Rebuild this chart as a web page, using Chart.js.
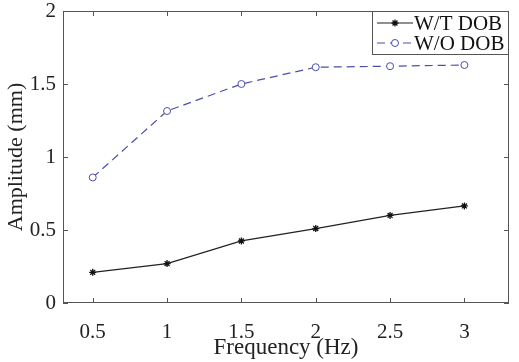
<!DOCTYPE html>
<html lang="en">
<head>
  <meta charset="utf-8">
  <title>Amplitude vs Frequency</title>
  <script src="https://cdn.jsdelivr.net/npm/chart.js@4.4.0/dist/chart.umd.min.js"></script>
  <style>
    html, body { margin: 0; padding: 0; background: #fff; }
    #wrap { width: 519px; height: 362px; }
  </style>
</head>
<body>
<div id="wrap"><canvas id="myChart" width="519" height="362"></canvas></div>
<script>
// data
var freq = [0.5, 1, 1.5, 2, 2.5, 3];
var withDob = [0.21, 0.27, 0.425, 0.51, 0.60, 0.665];
var withoutDob = [0.86, 1.315, 1.50, 1.615, 1.622, 1.63];
var xTicks = [0.5, 1, 1.5, 2, 2.5, 3];
var yTicks = [0, 0.5, 1, 1.5, 2];
var seriesNames = ["W/T DOB", "W/O DOB"];

var serif = "'Liberation Serif', 'Times New Roman', serif";
var axisColor = "#555";
var blue = "#4b4fa8";

function pts(xs, ys) {
  return xs.map(function (x, i) { return { x: x, y: ys[i] }; });
}

// box + inward ticks on all four sides, like matlab
var boxPlugin = {
  id: "box",
  afterDraw: function (chart) {
    var ctx = chart.ctx, a = chart.chartArea;
    var xs = chart.scales.x, ys = chart.scales.y;
    var tl = 5;
    ctx.save();
    ctx.strokeStyle = axisColor;
    ctx.lineWidth = 1;
    ctx.strokeRect(a.left + 0.5, a.top + 0.5, a.right - a.left - 1, a.bottom - a.top - 1);
    ctx.beginPath();
    xTicks.forEach(function (v) {
      var px = Math.round(xs.getPixelForValue(v)) + 0.5;
      ctx.moveTo(px, a.bottom); ctx.lineTo(px, a.bottom - tl);
      ctx.moveTo(px, a.top); ctx.lineTo(px, a.top + tl);
    });
    yTicks.forEach(function (v) {
      var py = Math.round(ys.getPixelForValue(v)) + 0.5;
      ctx.moveTo(a.left, py); ctx.lineTo(a.left + tl, py);
      ctx.moveTo(a.right, py); ctx.lineTo(a.right - tl, py);
    });
    ctx.stroke();
    ctx.restore();
  }
};

// legend box in the top right corner
var legendPlugin = {
  id: "boxLegend",
  afterDraw: function (chart) {
    var ctx = chart.ctx, a = chart.chartArea;
    var w = 137, h = 44;
    var x0 = a.right - w, y0 = a.top;
    ctx.save();
    ctx.fillStyle = "#fff";
    ctx.fillRect(x0, y0, w, h);
    ctx.strokeStyle = axisColor;
    ctx.lineWidth = 1;
    ctx.strokeRect(x0 + 0.5, y0 + 0.5, w - 1, h - 1);
    ctx.font = "21px " + serif;
    ctx.textBaseline = "middle";
    var rows = [y0 + 12, y0 + 32];
    chart.data.datasets.forEach(function (ds, i) {
      var y = rows[i];
      ctx.save();
      ctx.strokeStyle = ds.borderColor;
      ctx.lineWidth = ds.borderWidth;
      ctx.setLineDash(ds.borderDash || []);
      ctx.beginPath();
      ctx.moveTo(x0 + 5, y); ctx.lineTo(x0 + 41, y);
      ctx.stroke();
      ctx.setLineDash([]);
      ctx.strokeStyle = ds.pointBorderColor;
      ctx.fillStyle = ds.pointBackgroundColor;
      ctx.lineWidth = ds.pointBorderWidth;
      Chart.helpers.drawPoint(ctx, {
        pointStyle: ds.pointStyle, radius: ds.pointRadius, borderWidth: ds.pointBorderWidth
      }, x0 + 23, y);
      ctx.restore();
      ctx.fillStyle = "#111";
      ctx.fillText(ds.label, x0 + 42, y + 1);
    });
    ctx.restore();
  }
};

function fmt(v) { return String(v); }

new Chart("myChart", {
  type: "scatter",
  data: {
    datasets: [{
      label: seriesNames[0],
      data: pts(freq, withDob),
      showLine: true,
      borderColor: "#222",
      borderWidth: 1.2,
      pointStyle: "star",
      pointRadius: 3.5,
      pointBorderColor: "#111",
      pointBackgroundColor: "#111",
      pointBorderWidth: 1.3
    }, {
      label: seriesNames[1],
      data: pts(freq, withoutDob),
      showLine: true,
      borderColor: blue,
      borderWidth: 1.2,
      borderDash: [8, 5],
      pointStyle: "circle",
      pointRadius: 3.5,
      pointBorderColor: blue,
      pointBackgroundColor: "#fff",
      pointBorderWidth: 1
    }]
  },
  options: {
    responsive: false,
    animation: false,
    layout: { padding: { left: 0, top: 11, right: 10, bottom: 0 } },
    plugins: { legend: { display: false }, tooltip: { enabled: false } },
    scales: {
      x: {
        type: "linear",
        min: 0.3,
        max: 3.3,
        afterBuildTicks: function (s) { s.ticks = xTicks.map(function (v) { return { value: v }; }); },
        afterFit: function (s) { s.height = 59; s.paddingLeft = 0; s.paddingRight = 0; },
        grid: { display: false, drawTicks: false },
        border: { display: false },
        ticks: {
          font: { family: serif, size: 21 },
          color: "#222",
          padding: 17,
          maxRotation: 0,
          callback: fmt
        },
        title: {
          display: true,
          text: "Frequency (Hz)",
          font: { family: serif, size: 23 },
          color: "#222",
          padding: { top: 0, bottom: 0 }
        }
      },
      y: {
        min: 0,
        max: 2,
        afterBuildTicks: function (s) { s.ticks = yTicks.map(function (v) { return { value: v }; }); },
        afterFit: function (s) { s.width = 63; s.paddingTop = 0; s.paddingBottom = 0; },
        grid: { display: false, drawTicks: false },
        border: { display: false },
        ticks: {
          font: { family: serif, size: 21 },
          color: "#222",
          padding: 7,
          callback: fmt
        },
        title: {
          display: true,
          text: "Amplitude (mm)",
          font: { family: serif, size: 22 },
          color: "#222",
          padding: { top: 3, bottom: 0 }
        }
      }
    }
  },
  plugins: [boxPlugin, legendPlugin]
});
</script>
</body>
</html>
